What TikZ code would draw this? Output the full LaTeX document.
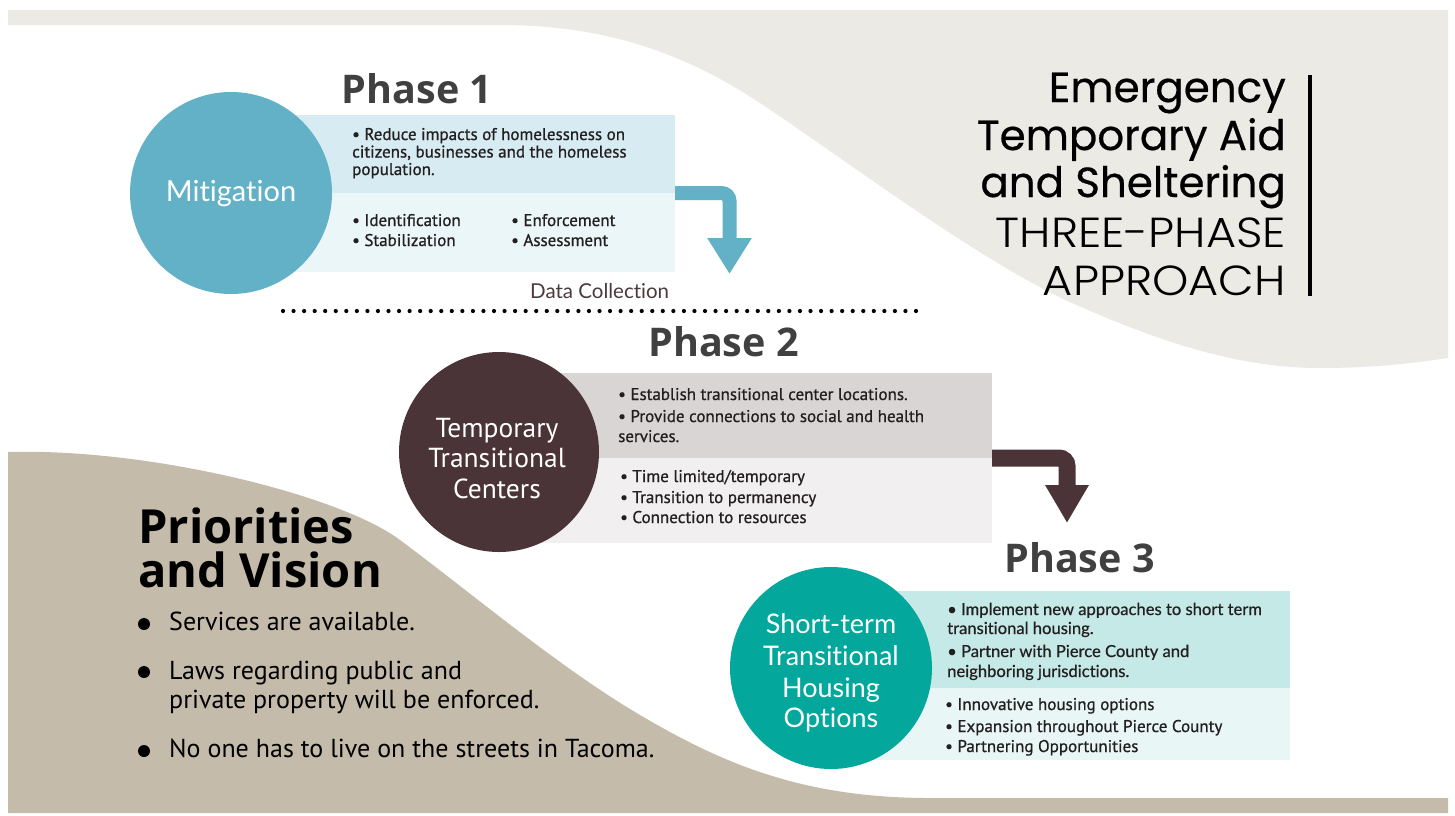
\documentclass[tikz,border=0pt]{standalone}
\usepackage{fontspec}
\usetikzlibrary{arrows.meta}
\setmainfont{PT Sans}
\newfontfamily\bodyf{PT Sans}
\newfontfamily\bodym{PT Sans}[FakeBold=0.8]
\newfontfamily\osans{Open Sans}
\newfontfamily\latof{Lato}[Ligatures=NoCommon]
\newfontfamily\latom{Lato}[Ligatures=NoCommon,FakeBold=0.6]
\newfontfamily\popf{Poppins}[FakeBold=0.5]
\IfFontExistsTF{Poppins Light}{\newfontfamily\lightf{Poppins Light}[FakeStretch=1.1]}{%
  \IfFontExistsTF{Lato Light}{\newfontfamily\lightf{Lato Light}[FakeStretch=1.1]}{\newfontfamily\lightf{Poppins}[FakeStretch=1.1]}}
\definecolor{bgGray}{HTML}{ECEAE5}
\definecolor{tanC}{HTML}{C4BBAB}
\definecolor{blueA}{HTML}{62B1C7}
\definecolor{blueUp}{HTML}{D7ECF2}
\definecolor{blueLo}{HTML}{EBF6F9}
\definecolor{brownB}{HTML}{4B3437}
\definecolor{grayUp}{HTML}{D9D5D4}
\definecolor{grayLo}{HTML}{F1EFEF}
\definecolor{tealC}{HTML}{03A79B}
\definecolor{tealUp}{HTML}{C5E9E6}
\definecolor{tealLo}{HTML}{E8F6F5}
\definecolor{phGray}{HTML}{404040}
\definecolor{txtC}{HTML}{231F20}
\definecolor{dcC}{HTML}{4B3A3D}
\begin{document}
\begin{tikzpicture}[x=1pt,y=-1pt,
  boxst/.style={rectangle, inner sep=0pt, outer sep=0pt, anchor=north west},
  disc/.style={circle, inner sep=0pt, outer sep=0pt, minimum size=#1},
  bt/.style={anchor=base west, inner sep=0pt, text=txtC, font=\fontsize{17}{19}\selectfont\bodym},
  bt3/.style={anchor=base west, inner sep=0pt, text=txtC, font=\fontsize{16.6}{18}\selectfont\latom},
  phasest/.style={anchor=base, inner sep=0pt, text=phGray, font=\fontsize{39.5}{42}\selectfont\osans\bfseries},
  lblA/.style={anchor=base, inner sep=0pt, text=white, font=\fontsize{29}{30}\selectfont\latof},
  lblB/.style={anchor=base, inner sep=0pt, text=white, font=\fontsize{27.5}{30}\selectfont\bodyf},
  lblC/.style={anchor=base, inner sep=0pt, text=white, font=\fontsize{27}{30}\selectfont\latof},
  ttl/.style={anchor=base east, inner sep=0pt, text=black, font=\fontsize{42}{46}\selectfont\popf},
  ttlL/.style={anchor=base east, inner sep=0pt, text=black, font=\fontsize{42}{46}\selectfont\lightf},
  prio/.style={anchor=base west, inner sep=0pt, text=black, font=\fontsize{47}{50}\selectfont\osans\bfseries},
  pb/.style={anchor=base west, inner sep=0pt, text=black, font=\fontsize{26}{28}\selectfont\bodyf},
  pdot/.style={circle, fill=black, inner sep=0pt, minimum size=12pt}
]
\useasboundingbox (0,0) rectangle (1455,815);
\fill[white] (0,0) rectangle (1455,815);
% background shapes
\fill[bgGray] (8,10) -- (1448,10) -- (1448,358)
  .. controls (1420,362) and (1380,368) .. (1320,368)
  .. controls (1240,368) and (1162,343) .. (1072,303)
  .. controls (982,263) and (840,156) .. (760,103)
  .. controls (680,50) and (600,25) .. (500,25)
  -- (8,25) -- cycle;
\fill[tanC] (8,452)
  .. controls (150,448) and (340,495) .. (400,540)
  .. controls (470,592) and (560,668) .. (640,715)
  .. controls (720,762) and (800,798) .. (930,798)
  -- (1448,798) -- (1448,813) -- (8,813) -- cycle;

% ---------- Phase 1
\node[phasest] (ph1) at (417,103) {Phase 1};
\node[boxst, fill=blueUp, minimum width=395pt, minimum height=78pt] (p1up) at (280,115) {};
\node[boxst, fill=blueLo, minimum width=395pt, minimum height=79pt] (p1lo) at (280,193) {};
\node[disc=202pt, fill=blueA] (c1) at (231,193) {};
\node[lblA] (c1t) at (231,201) {Mitigation};
\node[bt] (p1a) at (352,140) {• Reduce impacts of homelessness on};
\node[bt] (p1b) at (352,157.5) {citizens, businesses and the homeless};
\node[bt] (p1c) at (352,175) {population.};
\node[bt] (p1d) at (352,226) {• Identification};
\node[bt] (p1e) at (352,246) {• Stabilization};
\node[bt] (p1f) at (511,226) {• Enforcement};
\node[bt] (p1g) at (511,246) {• Assessment};
\coordinate (a1tip) at (729.5,274);
\draw[blueA, line width=14pt, rounded corners=8pt, -{Triangle[width=42pt,length=36pt]}] (p1up.south east) -| (a1tip);

% data collection
\node[anchor=base west, inner sep=0pt, text=dcC, font=\fontsize{20.5}{22}\selectfont\latof] (dc) at (530,298) {Data Collection};
\coordinate (dl) at (283,311);
\coordinate (dr) at (916,311);
\draw[line width=4.2pt, line cap=round, dash pattern=on 0pt off 10.55pt] (dl) -- (dr);

% ---------- Phase 2
\node[phasest] (ph2) at (723.5,356) {Phase 2};
\node[boxst, fill=grayUp, minimum width=452pt, minimum height=85pt] (p2up) at (540,373) {};
\node[boxst, fill=grayLo, minimum width=452pt, minimum height=85pt] (p2lo) at (540,458) {};
\node[disc=200pt, fill=brownB] (c2) at (499,452) {};
\node[lblB] (c2a) at (497,437) {Temporary};
\node[lblB] (c2b) at (497,467) {Transitional};
\node[lblB] (c2c) at (497,498) {Centers};
\node[bt] (p2a) at (618,400) {• Establish transitional center locations.};
\node[bt] (p2b) at (618,422) {• Provide connections to social and health};
\node[bt] (p2c) at (618,442) {services.};
\node[bt] (p2d) at (620,482) {• Time limited/temporary};
\node[bt] (p2e) at (620,503) {• Transition to permanency};
\node[bt] (p2f) at (620,523) {• Connection to resources};
\coordinate (a2tip) at (1067,523);
\draw[brownB, line width=17pt, rounded corners=8pt, -{Triangle[width=41pt,length=38pt]}] (p2up.south east) -| (a2tip);

% ---------- Phase 3
\node[phasest] (ph3) at (1079.5,572) {Phase 3};
\node[boxst, fill=tealUp, minimum width=430pt, minimum height=97pt] (p3up) at (860,591) {};
\node[boxst, fill=tealLo, minimum width=430pt, minimum height=72pt] (p3lo) at (860,688) {};
\node[disc=202pt, fill=tealC] (c3) at (831,668) {};
\node[lblC] (c3a) at (831,633) {Short-term};
\node[lblC] (c3b) at (831,665) {Transitional};
\node[lblC] (c3c) at (831,697) {Housing};
\node[lblC] (c3d) at (831,727) {Options};
\node[bt3] (p3a) at (947,615) {• Implement new approaches to short term};
\node[bt3] (p3b) at (947,634) {transitional housing.};
\node[bt3] (p3c) at (947,657) {• Partner with Pierce County and};
\node[bt3] (p3d) at (947,677) {neighboring jurisdictions.};
\node[bt] (p3e) at (945,710) {• Innovative housing options};
\node[bt] (p3f) at (945,732) {• Expansion throughout Pierce County};
\node[bt] (p3g) at (945,752) {• Partnering Opportunities};

% ---------- Title
\node[ttl] (t1) at (1286,102) {Emergency};
\node[ttl] (t2) at (1286,150) {Temporary Aid};
\node[ttl] (t3) at (1286,197) {and Sheltering};
\node[ttlL] (t4) at (1286,247) {THREE-PHASE};
\node[ttlL] (t5) at (1286,295) {APPROACH};
\coordinate (vb1) at (1310,75);
\coordinate (vb2) at (1310,296);
\draw[line width=4pt] (vb1) -- (vb2);

% ---------- Priorities
\node[prio] (pr1) at (138,543) {Priorities};
\node[prio] (pr2) at (138,587) {and Vision};
\node[pdot] (d1) at (144,624) {};
\node[pb] (s1) at (169,630) {Services are available.};
\node[pdot] (d2) at (144,672) {};
\node[pb] (s2) at (169,679) {Laws regarding public and};
\node[pb] (s3) at (169,708) {private property will be enforced.};
\node[pdot] (d3) at (144,751) {};
\node[pb] (s4) at (169,757) {No one has to live on the streets in Tacoma.};
\end{tikzpicture}
\end{document}
